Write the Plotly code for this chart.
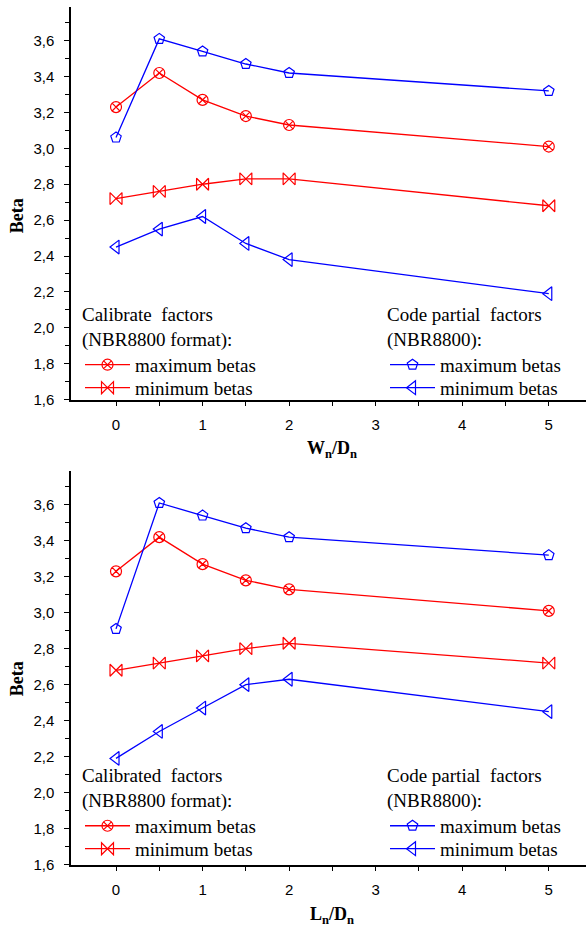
import plotly.graph_objects as go

# Shared abscissa (ratio of nominal load to dead load)
ratios = [0, 0.5, 1, 1.5, 2, 5]

# Upper panel: wind load ratio W_n/D_n
w_cal_max = [3.23, 3.42, 3.27, 3.18, 3.13, 3.01]
w_cal_min = [2.72, 2.76, 2.80, 2.83, 2.83, 2.68]
w_code_max = [3.06, 3.61, 3.54, 3.47, 3.42, 3.32]
w_code_min = [2.45, 2.55, 2.62, 2.47, 2.38, 2.19]

# Lower panel: live load ratio L_n/D_n
l_cal_max = [3.23, 3.42, 3.27, 3.18, 3.13, 3.01]
l_cal_min = [2.68, 2.72, 2.76, 2.80, 2.83, 2.72]
l_code_max = [2.91, 3.61, 3.54, 3.47, 3.42, 3.32]
l_code_min = [2.19, 2.34, 2.47, 2.60, 2.63, 2.45]

RED = "#ff0000"
BLUE = "#0000ff"
SERIF = "Liberation Serif, Times New Roman, serif"
SANS = "Liberation Sans, Arial, sans-serif"

W, H = 586, 938

series_style = [
    ("maximum betas", RED, "circle-x-open", 11),
    ("minimum betas", RED, "bowtie-open", 12),
    ("maximum betas", BLUE, "pentagon-open", 11),
    ("minimum betas", BLUE, "triangle-left-open", 12),
]

fig = go.Figure()

# each legend row gets its own legend box so row spacing can be set freely
panels = [
    ("x", "y", [w_cal_max, w_cal_min, w_code_max, w_code_min],
     ["legend", "legend2", "legend3", "legend4"]),
    ("x2", "y2", [l_cal_max, l_cal_min, l_code_max, l_code_min],
     ["legend5", "legend6", "legend7", "legend8"]),
]

for xa, ya, data, legs in panels:
    for vals, (name, color, symbol, size), leg in zip(data, series_style, legs):
        fig.add_trace(go.Scatter(
            x=ratios, y=vals, xaxis=xa, yaxis=ya,
            mode="lines+markers", name=name,
            line=dict(color=color, width=1.3),
            marker=dict(symbol=symbol, size=size, color=color,
                        line=dict(color=color, width=1.2)),
            legend=leg,
        ))


def px_y(y):
    return 1 - y / H


def px_x(x):
    return x / W


x_range = [-0.52, 5.43]
y_range = [1.6, 3.788]

xaxis_common = dict(
    range=x_range, showline=True, linecolor="black", linewidth=1.5,
    ticks="outside", ticklen=5, tickwidth=1.2, tickcolor="black",
    tickvals=[0, 1, 2, 3, 4, 5], ticklabelstandoff=6,
    minor=dict(tickvals=[0.5, 1.5, 2.5, 3.5, 4.5], ticks="outside",
               ticklen=5, tickwidth=1.2, tickcolor="black"),
    showgrid=False, zeroline=False, mirror=False,
    tickfont=dict(family=SANS, size=15, color="black"),
)
yaxis_common = dict(
    range=y_range, showline=True, linecolor="black", linewidth=1.5,
    ticks="outside", ticklen=5, tickwidth=1.2, tickcolor="black",
    tickvals=[1.6, 1.8, 2.0, 2.2, 2.4, 2.6, 2.8, 3.0, 3.2, 3.4, 3.6],
    tickformat=".1f", ticklabelstandoff=7,
    minor=dict(tickvals=[1.7, 1.9, 2.1, 2.3, 2.5, 2.7, 2.9, 3.1, 3.3, 3.5, 3.7],
               ticks="outside", ticklen=4, tickwidth=1.2, tickcolor="black"),
    showgrid=False, zeroline=False,
    tickfont=dict(family=SANS, size=15, color="black"),
)

x_dom = [px_x(71), 1.0]
top_dom = [px_y(403), px_y(7)]
bot_dom = [px_y(872), px_y(475)]

LEG_FONT = dict(family=SERIF, size=19, color="black")


def legend_box(x, y, title=None):
    d = dict(
        x=px_x(x), y=px_y(y), xanchor="left", yanchor="top",
        bgcolor="rgba(0,0,0,0)", borderwidth=0,
        font=LEG_FONT, tracegroupgap=0, itemwidth=45,
    )
    if title:
        d["title"] = dict(text=title, font=LEG_FONT)
    return d


LX, RX = 80, 385
fig.update_layout(
    width=W, height=H,
    margin=dict(l=0, r=0, t=0, b=0),
    paper_bgcolor="white", plot_bgcolor="white",
    font=dict(family=SERIF, color="black"),
    separators=",.",
    showlegend=True,
    xaxis=dict(domain=x_dom, anchor="y", **xaxis_common),
    yaxis=dict(domain=top_dom, anchor="x", **yaxis_common),
    xaxis2=dict(domain=x_dom, anchor="y2", **xaxis_common),
    yaxis2=dict(domain=bot_dom, anchor="x2", **yaxis_common),
    legend=legend_box(LX, 299, "Calibrate\u00a0 factors<br>(NBR8800 format):"),
    legend2=legend_box(LX, 372),
    legend3=legend_box(RX, 299, "Code partial\u00a0 factors<br>(NBR8800):"),
    legend4=legend_box(RX, 372),
    legend5=legend_box(LX, 764, "Calibrated\u00a0 factors<br>(NBR8800 format):"),
    legend6=legend_box(LX, 837),
    legend7=legend_box(RX, 764, "Code partial\u00a0 factors<br>(NBR8800):"),
    legend8=legend_box(RX, 837),
)

title_font = dict(family=SERIF, size=18, color="black")
axis_titles = [
    ("<b>Beta</b>", -90, 17, 218),
    ("<b>Beta</b>", -90, 17, 685),
    ("<b>W<sub>n</sub>/D<sub>n</sub></b>", 0, 332, 453),
    ("<b>L<sub>n</sub>/D<sub>n</sub></b>", 0, 332, 923),
]
for text, angle, ax, ay in axis_titles:
    fig.add_annotation(text=text, textangle=angle, xref="paper", yref="paper",
                       x=px_x(ax), y=px_y(ay), xanchor="center", yanchor="middle",
                       showarrow=False, font=title_font)

fig.write_html("out.html")
